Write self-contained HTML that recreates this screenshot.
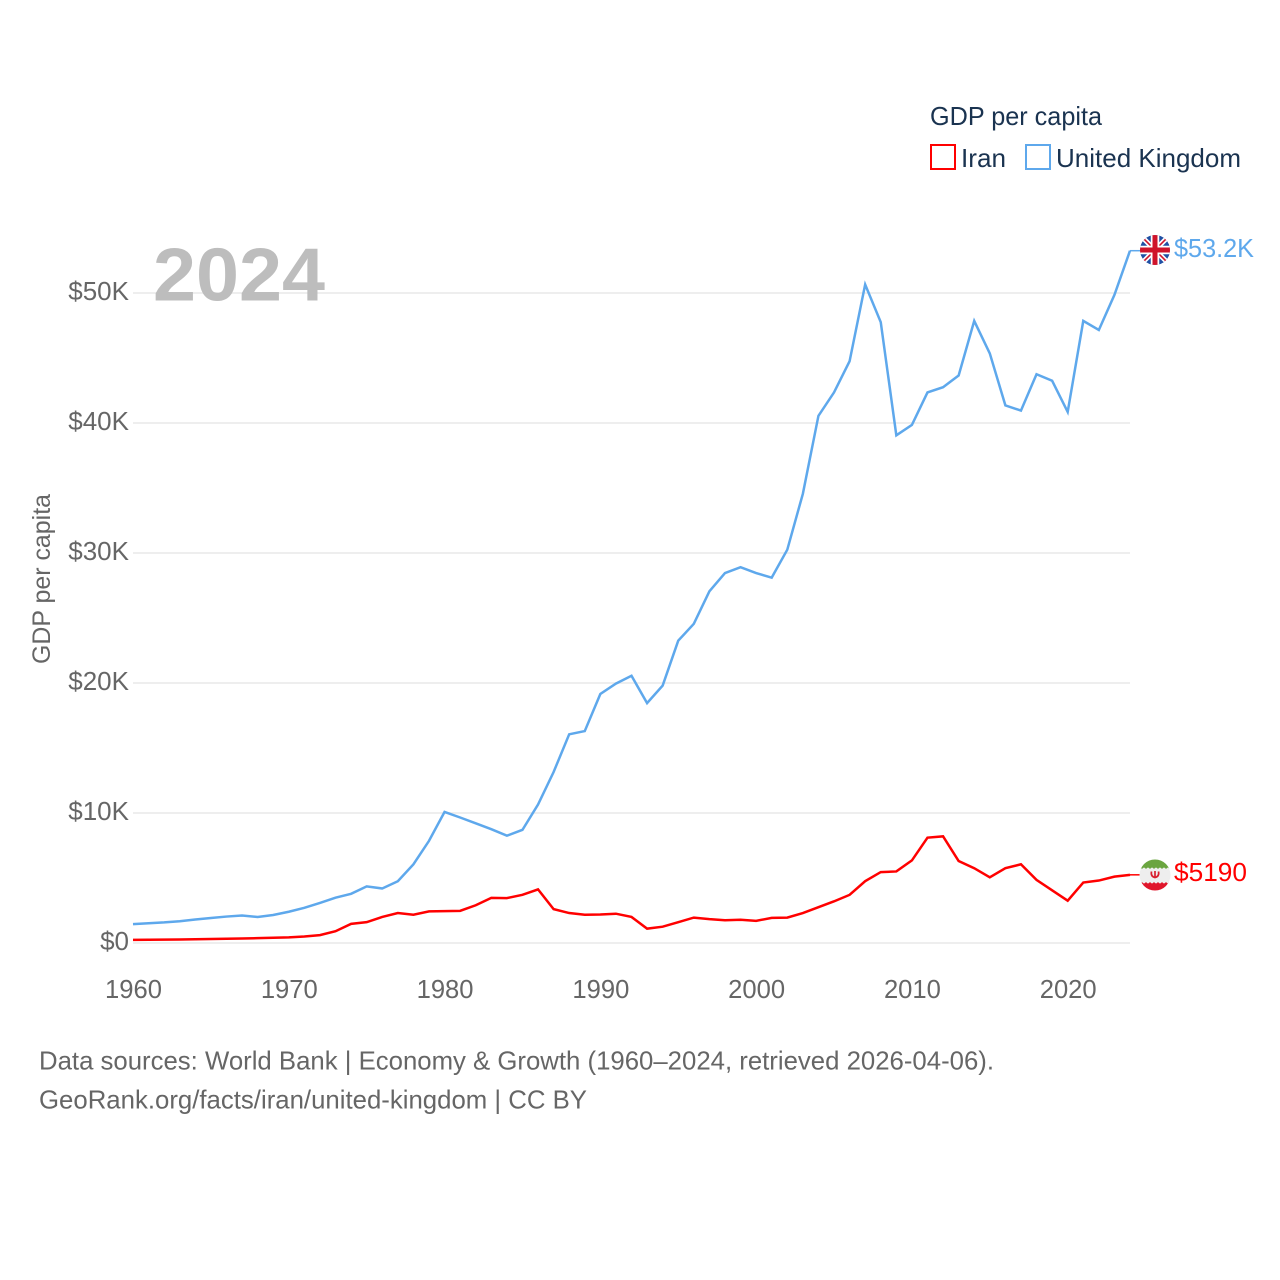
<!DOCTYPE html>
<html lang="en">
<head>
<meta charset="utf-8">
<title>GDP per capita: Iran and United Kingdom</title>
<style>
html,body{margin:0;padding:0;background:#fff;}
svg{display:block;font-family:"Liberation Sans",sans-serif;}
</style>
</head>
<body>
<svg id="chart" width="1280" height="1280" viewBox="0 0 1280 1280" xmlns="http://www.w3.org/2000/svg">
  <defs>
    <clipPath id="flag-uk-clip"><circle cx="1155" cy="250" r="15"/></clipPath>
    <clipPath id="flag-ir-clip"><circle cx="1155" cy="875" r="15.5"/></clipPath>
  </defs>
  <rect width="1280" height="1280" fill="#fff"/>
  <g id="grid"></g>
  <text x="153" y="300.5" font-size="75" font-weight="700" fill="#bdbdbd" textLength="172" lengthAdjust="spacingAndGlyphs">2024</text>
  <g id="y-ticks"></g>
  <g id="x-ticks"></g>
  <text transform="translate(50,664) rotate(-90)" font-size="25" fill="#666" textLength="170" lengthAdjust="spacingAndGlyphs">GDP per capita</text>
  <g id="series"></g>

  <g clip-path="url(#flag-uk-clip)">
    <rect x="1140" y="235" width="30" height="30" fill="#1f4fa3"/>
    <path d="M1140 235L1170 265M1170 235L1140 265" stroke="#fff" stroke-width="5"/>
    <path d="M1140 235L1170 265M1170 235L1140 265" stroke="#cf142b" stroke-width="1.6"/>
    <path d="M1155 235V265M1140 250H1170" stroke="#fff" stroke-width="8.5"/>
    <path d="M1155 235V265M1140 250H1170" stroke="#cf142b" stroke-width="5"/>
  </g>
  <g clip-path="url(#flag-ir-clip)">
    <rect x="1139" y="859" width="32" height="10" fill="#6aa53f"/>
    <rect x="1139" y="868.5" width="32" height="14.5" fill="#eeeeee"/>
    <rect x="1139" y="882.5" width="32" height="9" fill="#e0162b"/>
    <path d="M1139 868.5H1171M1139 882.5H1171" stroke="#eeeeee" stroke-width="1.5" stroke-dasharray="2 2"/>
    <path d="M1151.5 871.5q-1 5 3.5 6q4.5-1 3.5-6M1155 871v7" fill="none" stroke="#d8202f" stroke-width="1.7"/>
  </g>
  <text x="1174" y="257" font-size="26" fill="#5ea8ec" textLength="80" lengthAdjust="spacingAndGlyphs">$53.2K</text>
  <text x="1174" y="881" font-size="26" fill="#ff0000" textLength="73" lengthAdjust="spacingAndGlyphs">$5190</text>

  <g>
    <text x="930" y="125" font-size="26" fill="#1a3350" textLength="172" lengthAdjust="spacingAndGlyphs">GDP per capita</text>
    <g>
      <rect x="931" y="145" width="24" height="24" fill="none" stroke="#ff0000" stroke-width="2"/>
      <text x="961" y="167" font-size="26" fill="#1a3350" textLength="45" lengthAdjust="spacingAndGlyphs">Iran</text>
    </g>
    <g>
      <rect x="1026" y="145" width="24" height="24" fill="none" stroke="#5ea8ec" stroke-width="2"/>
      <text x="1056" y="167" font-size="26" fill="#1a3350" textLength="185" lengthAdjust="spacingAndGlyphs">United Kingdom</text>
    </g>
  </g>

  <text x="39" y="1069.5" font-size="26" fill="#666" textLength="955" lengthAdjust="spacingAndGlyphs">Data sources: World Bank | Economy &amp; Growth (1960–2024, retrieved 2026-04-06).</text>
  <text x="39" y="1108.5" font-size="26" fill="#666" textLength="548" lengthAdjust="spacingAndGlyphs">GeoRank.org/facts/iran/united-kingdom | CC BY</text>
</svg>
<script>
// GDP per capita in thousands of US dollars, one value per year from the first year onward.
const firstYear = 1960;
const lastYear = 2024;
const iranValues = [0.19,0.2,0.21,0.22,0.23,0.25,0.27,0.29,0.32,0.35,0.38,0.45,0.55,0.85,1.42,1.55,1.95,2.25,2.12,2.38,2.4,2.42,2.85,3.42,3.4,3.65,4.07,2.55,2.25,2.12,2.14,2.2,1.95,1.05,1.2,1.55,1.9,1.78,1.7,1.73,1.65,1.88,1.9,2.25,2.7,3.15,3.65,4.7,5.4,5.45,6.3,8.05,8.15,6.25,5.7,5.0,5.7,6.0,4.8,4.0,3.2,4.6,4.75,5.05,5.19];
const ukValues = [1.4,1.47,1.53,1.62,1.75,1.87,1.98,2.06,1.95,2.1,2.35,2.65,3.03,3.43,3.73,4.3,4.14,4.7,6.0,7.8,10.03,9.6,9.15,8.7,8.2,8.65,10.6,13.1,16.0,16.25,19.1,19.9,20.5,18.4,19.75,23.2,24.5,27.0,28.4,28.85,28.4,28.05,30.2,34.5,40.5,42.3,44.7,50.6,47.7,39.0,39.8,42.3,42.7,43.6,47.8,45.3,41.3,40.9,43.7,43.2,40.8,47.8,47.1,49.8,53.2];
const yTickValues = [0,10,20,30,40,50];
const yTickLabels = ["$0","$10K","$20K","$30K","$40K","$50K"];
const xTickYears = [1960,1970,1980,1990,2000,2010,2020];
const xTickLabels = ["1960","1970","1980","1990","2000","2010","2020"];

const NS = 'http://www.w3.org/2000/svg';
const plotLeft = 133, plotRight = 1130, plotBottom = 943, plotPerK = 13, lineLift = 0.7;
const xScale = function (year) { return plotLeft + (year - firstYear) * (plotRight - plotLeft) / (lastYear - firstYear); };
const yScale = function (v) { return plotBottom - v * plotPerK; };

const grid = document.getElementById('grid');
const yTicks = document.getElementById('y-ticks');
const xTicks = document.getElementById('x-ticks');
const seriesGroup = document.getElementById('series');

yTickValues.forEach(function (v, i) {
  const line = document.createElementNS(NS, 'line');
  
  
  line.setAttribute('x1', plotLeft);
  line.setAttribute('x2', plotRight);
  line.setAttribute('y1', yScale(v));
  line.setAttribute('y2', yScale(v));
  line.setAttribute('stroke', '#eeeeee');
  line.setAttribute('stroke-width', '2');
  grid.appendChild(line);

  const label = document.createElementNS(NS, 'text');
  
  
  label.setAttribute('x', 129);
  label.setAttribute('y', yScale(v) + 7);
  label.setAttribute('text-anchor', 'end');
  label.setAttribute('font-size', '26');
  label.setAttribute('fill', '#666');
  label.textContent = yTickLabels[i];
  yTicks.appendChild(label);
});

xTickYears.forEach(function (year, i) {
  const label = document.createElementNS(NS, 'text');
  
  
  label.setAttribute('x', xScale(year) + 0.5);
  label.setAttribute('y', 998);
  label.setAttribute('text-anchor', 'middle');
  label.setAttribute('font-size', '25.6');
  label.setAttribute('fill', '#666');
  label.textContent = xTickLabels[i];
  xTicks.appendChild(label);
});

function drawSeries(values, color, name) {
  const d = values.map(function (v, i) {
    return (i ? 'L' : 'M') + xScale(firstYear + i).toFixed(2) + ' ' + (yScale(v) - lineLift).toFixed(2);
  }).join('');
  const path = document.createElementNS(NS, 'path');
  
  
  path.setAttribute('d', d);
  path.setAttribute('fill', 'none');
  path.setAttribute('stroke', color);
  path.setAttribute('stroke-width', '2.5');
  path.setAttribute('stroke-linejoin', 'miter');
  seriesGroup.appendChild(path);

  const lastY = yScale(values[values.length - 1]) - lineLift;
  const link = document.createElementNS(NS, 'line');
  
  
  link.setAttribute('x1', plotRight);
  link.setAttribute('x2', plotRight + 10);
  link.setAttribute('y1', lastY);
  link.setAttribute('y2', lastY);
  link.setAttribute('stroke', color);
  link.setAttribute('stroke-width', '1.5');
  seriesGroup.appendChild(link);
}
drawSeries(ukValues, '#5ea8ec', 'united-kingdom-line');
drawSeries(iranValues, '#ff0000', 'iran-line');
</script>
</body>
</html>
